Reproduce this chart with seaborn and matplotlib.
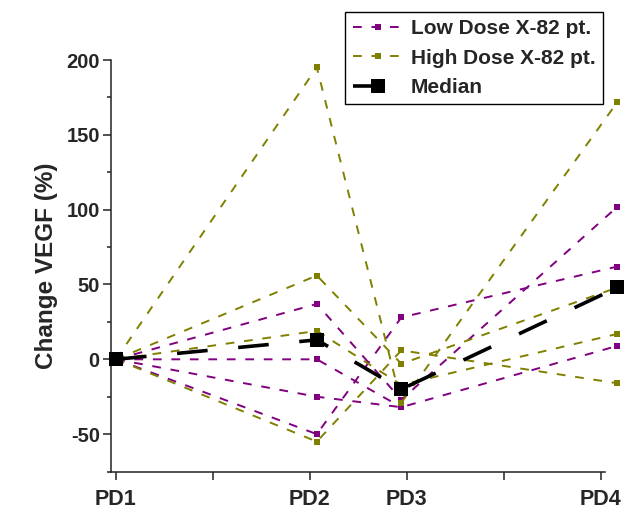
import numpy as np
import pandas as pd
import seaborn as sns
import matplotlib
matplotlib.use("Agg")
import matplotlib.pyplot as plt
from matplotlib.ticker import MultipleLocator

# Visits and the study day each one was sampled on
visit_labels = ["PD1", "PD2", "PD3", "PD4"]
visit_day = [0, 14.5, 20.6, 36.2]

# Change in VEGF (%) per patient, low-dose arm
low_dose_change = [
    [0, 37, -27, 102],
    [0, 0, -32, np.nan],
    [0, -25, -32, 9],
    [0, -50, 28, 62],
]

# Change in VEGF (%) per patient, high-dose arm
high_dose_change = [
    [0, 195, -29, 172],
    [0, 56, -3, 48],
    [0, 19, -17, 17],
    [0, -55, 6, -16],
]

# Median change across all patients
median_change = [0, 13, -20, 48]

# Axis ticks (days) and which of them carry a visit name
tick_days = [0, 7, 14, 21, 28, 35]
tick_names = ["PD1", "", "PD2", "PD3", "", "PD4"]
y_ticks = [-50, 0, 50, 100, 150, 200]

LOW_COLOR = "#800080"
HIGH_COLOR = "#808000"

sns.set_theme(style="ticks")
plt.rcParams["font.family"] = ["Liberation Sans", "DejaVu Sans"]
plt.rcParams["font.weight"] = "bold"
plt.rcParams["axes.unicode_minus"] = False

fig = plt.figure(figsize=(6.4, 5.12), dpi=100)
ax = fig.add_axes([0.1734, 0.0781, 0.7719, 0.8047])

patient_style = dict(marker="s", markersize=5, markeredgewidth=0,
                     linewidth=1.4, linestyle=(0, (4.5, 5.0)), clip_on=False)

for i, vals in enumerate(low_dose_change):
    sns.lineplot(x=visit_day, y=vals, ax=ax, color=LOW_COLOR,
                 label="Low Dose X-82 pt." if i == 0 else "_nolegend_",
                 legend=False, **patient_style)

for i, vals in enumerate(high_dose_change):
    sns.lineplot(x=visit_day, y=vals, ax=ax, color=HIGH_COLOR,
                 label="High Dose X-82 pt." if i == 0 else "_nolegend_",
                 legend=False, **patient_style)

sns.lineplot(x=visit_day, y=median_change, ax=ax, color="black",
             marker="s", markersize=10, markeredgewidth=0,
             linewidth=2.6, linestyle=(0, (8.5, 8.5)), clip_on=False,
             label="Median", legend=False, zorder=5)

ax.set_xlim(-0.36, 35.3)
ax.set_ylim(-75.3, 200)

ax.set_xticks(tick_days, tick_names, fontsize=15.5, fontweight="bold")
ax.set_yticks(y_ticks, [str(v) for v in y_ticks], fontsize=14.5,
              fontweight="bold")
ax.yaxis.set_minor_locator(MultipleLocator(25))

ax.tick_params(axis="y", which="major", length=6, width=1.1, pad=2,
               color="#222222")
ax.tick_params(axis="y", which="minor", length=3, width=1.1, color="#222222")
ax.tick_params(axis="x", which="major", length=6, width=1.1, pad=6,
               color="#222222")

for side in ("top", "right"):
    ax.spines[side].set_visible(False)
for side in ("left", "bottom"):
    ax.spines[side].set_linewidth(1.1)
    ax.spines[side].set_color("#222222")

ax.set_xlabel("")
ax.set_ylabel("Change VEGF (%)", fontsize=17.5, fontweight="bold", labelpad=6)

handles, labels = ax.get_legend_handles_labels()
leg = ax.legend(handles, labels, loc="upper right",
                bbox_to_anchor=(603 / 640, 1 - 12 / 512),
                bbox_transform=fig.transFigure,
                frameon=True, fancybox=False, framealpha=1,
                edgecolor="black", prop={"weight": "bold", "size": 15},
                handlelength=2.4, handletextpad=0.4, borderpad=0.35,
                labelspacing=0.5, borderaxespad=0)
leg.get_frame().set_linewidth(1.0)

fig.savefig("out.png", dpi=100)
